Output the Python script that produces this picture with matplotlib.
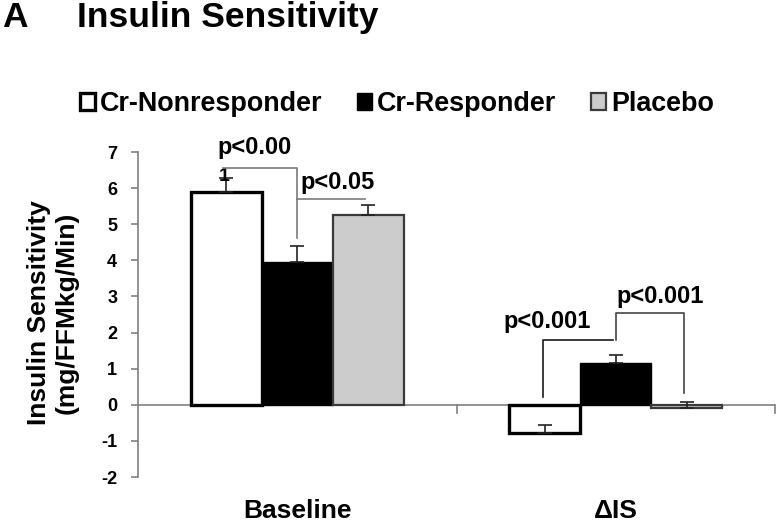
import matplotlib
matplotlib.use("Agg")
import matplotlib.pyplot as plt
import numpy as np

plt.rcParams['font.family'] = ['Liberation Sans', 'DejaVu Sans']

categories = ["Baseline", "\u0394IS"]
series = ["Cr-Nonresponder", "Cr-Responder", "Placebo"]
values = {
    "Cr-Nonresponder": [5.9, -0.78],
    "Cr-Responder": [3.96, 1.16],
    "Placebo": [5.26, -0.08],
}
errors = {
    "Cr-Nonresponder": [0.37, 0.22],
    "Cr-Responder": [0.44, 0.22],
    "Placebo": [0.28, 0.16],
}
yticks = [-2, -1, 0, 1, 2, 3, 4, 5, 6, 7]

fills = {"Cr-Nonresponder": "white", "Cr-Responder": "black", "Placebo": "#cccccc"}
edges = {"Cr-Nonresponder": "black", "Cr-Responder": "black", "Placebo": "#3a3a3a"}
lws = {"Cr-Nonresponder": 2.4, "Cr-Responder": 1.0, "Placebo": 1.6}

fig = plt.figure(figsize=(7.76, 5.25), dpi=100)
ax = fig.add_axes([138/776, 1-477/525, 637/776, 325/525])

x = np.arange(len(categories))
w = 0.223
offsets = [-w, 0, w]
for s, off in zip(series, offsets):
    v = np.array(values[s])
    e = np.array(errors[s])
    ax.bar(x + off, v, width=w, color=fills[s], edgecolor=edges[s],
           linewidth=lws[s], label=s, zorder=2)
    ax.errorbar(x + off, v, yerr=[np.zeros_like(e), e], fmt='none',
                ecolor='#222222', elinewidth=1.2, capsize=5, capthick=1.2, zorder=3)

ax.set_xlim(-0.5, 1.5)
ax.set_ylim(-2, 7)
ax.set_yticks(yticks)
ax.set_yticklabels([str(t) for t in yticks], fontsize=13, fontweight='bold')
ax.tick_params(axis='y', direction='out', length=5, width=1.2, color='#808080', pad=10)
ax.set_xticks([])
for sp in ['top', 'right', 'bottom']:
    ax.spines[sp].set_visible(False)
ax.spines['left'].set_color('#808080')
ax.spines['left'].set_linewidth(1.2)
ax.axhline(0, color='#808080', lw=1.2, zorder=1)
# category boundary ticks
for bx in [0.5, 1.5]:
    ax.plot([bx, bx], [0, -0.22], color='#808080', lw=1.2, clip_on=False)

fig.text(53/776, 1-313/525, "Insulin Sensitivity\n(mg/FFMkg/Min)", rotation=90,
         fontsize=19, fontweight='bold', ha='center', va='center',
         multialignment='center', linespacing=1.2)

# category labels
for cx, lab in zip(x, categories):
    ax.text(cx, (477-518)/325, lab, transform=ax.get_xaxis_transform(), ha='center',
            va='baseline', fontsize=19, fontweight='bold')

# significance brackets
g = '#7a7a7a'
ax.plot([-0.233, 0.0, 0.0], [6.56, 6.56, 4.62], color=g, lw=1.2, clip_on=False, zorder=4)
ax.plot([0.0, 0.213], [5.70, 5.70], color=g, lw=1.2, zorder=4)
ax.text(-0.133, 7.12, "p<0.00", ha='center', va='center', fontsize=17, fontweight='bold', clip_on=False)
ax.text(-0.228, 6.56, "1", ha='center', va='top', fontsize=14, fontweight='bold')
ax.text(0.128, 6.15, "p<0.05", ha='center', va='center', fontsize=17, fontweight='bold')

ax.plot([0.772, 0.772, 0.991], [0.22, 1.80, 1.80], color='#1a1a1a', lw=1.2, zorder=4)
ax.plot([1.0, 1.0, 1.214, 1.214], [1.80, 2.55, 2.55, 0.33], color='#444444', lw=1.2, zorder=4)
ax.text(0.784, 2.30, "p<0.001", ha='center', va='center', fontsize=17, fontweight='bold')
ax.text(1.139, 2.99, "p<0.001", ha='center', va='center', fontsize=17, fontweight='bold')

# title
fig.text(2/776, 1-27/525, "A", fontsize=25.5, fontweight='bold', va='baseline')
fig.text(77/776, 1-27/525, "Insulin Sensitivity", fontsize=25.5, fontweight='bold', va='baseline')

leg = fig.legend(loc='center left', bbox_to_anchor=(80/776, 1-104/525), ncol=3, frameon=False,
                 prop={'size': 19.4, 'weight': 'bold'}, handlelength=0.55, handleheight=0.55,
                 handletextpad=0.18, columnspacing=1.3, borderaxespad=0, borderpad=0)

fig.savefig("out.png", dpi=100)
